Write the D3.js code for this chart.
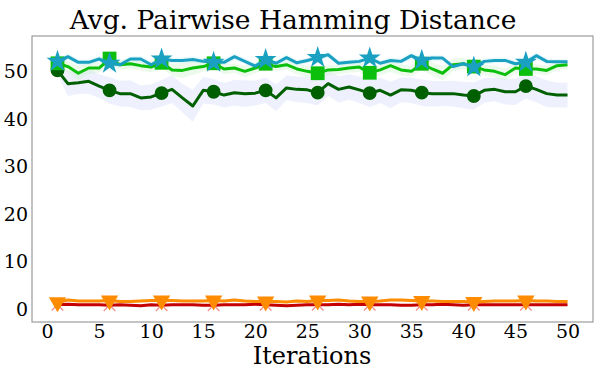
<!DOCTYPE html>
<html>
<head>
<meta charset="utf-8">
<script src="https://cdn.jsdelivr.net/npm/d3@7"></script>
<style>
  body { margin: 0; background: #fff; }
  text { font-family: "DejaVu Serif", serif; fill: #000; }
</style>
</head>
<body>
<svg id="chart" width="598" height="369"></svg>
<script>
// data
const iterations = d3.range(1, 51);
const markerIters = [1, 6, 11, 16, 21, 26, 31, 36, 41, 46];
const xTicks = [0, 5, 10, 15, 20, 25, 30, 35, 40, 45, 50];
const yTicks = [0, 10, 20, 30, 40, 50];

const cyanVals = [52.2, 53.2, 52.0, 52.0, 52.7, 51.8, 51.5, 52.7, 52.7, 51.5, 52.7, 52.4, 52.4, 52.6, 52.2, 52.0, 52.0, 53.2, 52.2, 51.2, 52.6, 51.8, 53.0, 51.9, 52.4, 53.0, 53.6, 51.8, 52.0, 52.2, 52.9, 51.8, 52.4, 52.2, 53.4, 52.4, 52.9, 52.9, 51.1, 51.7, 51.0, 52.2, 52.4, 52.4, 51.7, 52.0, 53.4, 52.2, 52.1, 52.1];
const cyanStd = [0.6, 0.7, 0.6, 0.6, 0.7, 0.8, 0.6, 0.6, 0.7, 0.6, 0.7, 0.6, 0.6, 0.7, 0.6, 0.6, 0.6, 0.7, 0.6, 0.7, 0.6, 0.6, 0.7, 0.6, 0.6, 0.7, 0.7, 0.6, 0.6, 0.6, 0.7, 0.6, 0.6, 0.6, 0.8, 0.7, 0.7, 0.6, 0.6, 0.6, 0.6, 0.6, 0.6, 0.6, 0.6, 0.7, 0.7, 0.6, 0.6, 0.6];

const greenVals = [51.8, 51.1, 49.7, 50.8, 50.8, 52.8, 51.5, 51.7, 51.3, 51.0, 51.9, 50.4, 50.3, 50.8, 51.1, 51.8, 50.6, 50.8, 50.1, 50.8, 51.7, 51.1, 51.5, 50.6, 50.1, 49.7, 50.4, 50.5, 50.8, 51.0, 49.8, 50.4, 51.3, 50.4, 50.1, 51.7, 50.6, 49.7, 51.5, 51.7, 51.1, 50.4, 50.1, 49.4, 50.8, 50.6, 50.6, 50.3, 51.3, 51.5];
const greenStd = [1.0, 1.2, 1.5, 1.3, 1.0, 1.0, 1.0, 1.0, 1.0, 1.1, 1.0, 1.3, 1.6, 1.4, 1.1, 1.0, 1.1, 1.0, 1.2, 1.1, 1.0, 1.0, 1.0, 1.1, 1.2, 1.2, 1.1, 1.0, 1.0, 1.0, 1.2, 1.1, 1.3, 1.2, 1.1, 1.3, 1.4, 1.5, 1.3, 1.2, 1.1, 1.1, 1.2, 1.3, 1.1, 1.0, 1.0, 1.0, 0.9, 0.9];

const darkVals = [50.3, 47.5, 47.7, 48.0, 47.0, 46.1, 45.4, 45.4, 44.5, 44.7, 45.5, 46.3, 44.5, 42.8, 46.1, 45.8, 45.1, 45.6, 45.4, 45.5, 46.1, 44.5, 46.6, 46.3, 46.2, 45.6, 47.5, 46.3, 46.8, 46.2, 45.5, 46.1, 45.1, 46.2, 46.1, 45.6, 45.4, 45.4, 45.4, 45.1, 44.9, 46.1, 46.3, 45.8, 45.8, 47.0, 46.3, 45.4, 45.1, 45.1];
const darkStd = [0.8, 2.6, 2.4, 2.6, 2.5, 2.8, 2.7, 2.8, 2.6, 2.7, 2.8, 2.9, 3.0, 3.4, 2.8, 2.7, 2.6, 2.7, 2.8, 2.6, 2.7, 2.8, 2.6, 2.7, 2.8, 2.7, 2.6, 2.8, 2.7, 2.8, 2.9, 2.7, 2.8, 2.6, 2.7, 2.8, 2.7, 2.6, 2.7, 2.8, 2.9, 2.6, 2.5, 2.7, 2.8, 2.6, 2.7, 2.8, 2.6, 2.6];

const orangeVals = [1.4, 1.9, 1.7, 1.7, 1.7, 1.8, 1.6, 1.6, 1.7, 1.8, 1.8, 1.8, 1.7, 1.7, 1.7, 1.8, 1.7, 1.9, 1.7, 1.6, 1.6, 1.6, 1.5, 1.7, 1.6, 1.8, 1.8, 1.9, 1.7, 1.6, 1.6, 1.7, 1.9, 1.9, 1.8, 1.7, 1.7, 1.6, 1.6, 1.6, 1.5, 1.6, 1.7, 1.7, 1.7, 1.8, 1.7, 1.7, 1.6, 1.6];
const orangeStd = [0.3, 0.3, 0.3, 0.3, 0.3, 0.3, 0.3, 0.3, 0.3, 0.3, 0.3, 0.3, 0.3, 0.3, 0.3, 0.3, 0.3, 0.3, 0.3, 0.3, 0.3, 0.3, 0.3, 0.3, 0.3, 0.3, 0.3, 0.3, 0.3, 0.3, 0.3, 0.3, 0.3, 0.3, 0.3, 0.3, 0.3, 0.3, 0.3, 0.3, 0.3, 0.3, 0.3, 0.3, 0.3, 0.3, 0.3, 0.3, 0.3, 0.3];

const redVals = [0.9, 1.0, 0.9, 0.9, 0.9, 0.8, 0.9, 0.8, 0.7, 0.9, 0.8, 0.9, 0.9, 0.9, 0.8, 0.8, 0.9, 0.9, 0.9, 1.0, 0.9, 0.8, 0.7, 0.8, 0.9, 0.9, 0.9, 1.0, 0.9, 1.0, 0.9, 0.9, 0.9, 0.8, 0.8, 0.9, 0.9, 1.0, 0.9, 0.8, 0.9, 0.9, 0.9, 0.9, 0.9, 0.9, 0.9, 0.9, 0.9, 0.9];
const redStd = [0.2, 0.2, 0.2, 0.2, 0.2, 0.2, 0.2, 0.2, 0.2, 0.2, 0.2, 0.2, 0.2, 0.2, 0.2, 0.2, 0.2, 0.2, 0.2, 0.2, 0.2, 0.2, 0.2, 0.2, 0.2, 0.2, 0.2, 0.2, 0.2, 0.2, 0.2, 0.2, 0.2, 0.2, 0.2, 0.2, 0.2, 0.2, 0.2, 0.2, 0.2, 0.2, 0.2, 0.2, 0.2, 0.2, 0.2, 0.2, 0.2, 0.2];

// series, drawn bottom first
const series = [
  { vals: redVals, std: redStd, color: "#c40000", band: "#ff9999", marker: "cross", mcolor: "#f08a8a" },
  { vals: orangeVals, std: orangeStd, color: "#ff8c00", band: "#ffd9a0", marker: "triangle", mcolor: "#ff8c00" },
  { vals: darkVals, std: darkStd, color: "#005f00", band: "#c8cff8", marker: "circle", mcolor: "#005f00" },
  { vals: greenVals, std: greenStd, color: "#0cbf0c", band: "#bff0bf", marker: "square", mcolor: "#0cbf0c" },
  { vals: cyanVals, std: cyanStd, color: "#1aa0c0", band: "#b8ecf4", marker: "star", mcolor: "#1aa0c0" }
];

const svg = d3.select("#chart");
const plot = { left: 32, right: 593, top: 36, bottom: 322 };

const x = d3.scaleLinear().domain([-1.45, 52.45]).range([plot.left, plot.right]);
const y = d3.scaleLinear().domain([-2.74, 57.55]).range([plot.bottom, plot.top]);

const g = svg.append("g");

// bands
series.forEach(s => {
  const area = d3.area()
    .x((d, i) => x(iterations[i]))
    .y0((d, i) => y(d - s.std[i]))
    .y1((d, i) => y(d + s.std[i]));
  g.append("path")
    .attr("d", area(s.vals))
    .attr("fill", s.band)
    .attr("opacity", 0.3);
});

// lines + markers
const symbols = {
  circle: d3.symbol(d3.symbolCircle, 150),
  square: d3.symbol(d3.symbolSquare, 190),
  star: d3.symbol(d3.symbolStar, 150),
  triangle: d3.symbol(d3.symbolTriangle, 130),
  cross: d3.symbol(d3.symbolX, 90)
};

series.forEach(s => {
  const line = d3.line()
    .x((d, i) => x(iterations[i]))
    .y(d => y(d));
  g.append("path")
    .attr("d", line(s.vals))
    .attr("fill", "none")
    .attr("stroke", s.color)
    .attr("stroke-width", 3)
    .attr("stroke-linejoin", "round");

  const pts = markerIters.map(it => [it, s.vals[iterations.indexOf(it)]]);
  const m = g.selectAll(null).data(pts).enter().append("path")
    .attr("d", symbols[s.marker]())
    .attr("transform", d => `translate(${x(d[0])},${y(d[1])})` + (s.marker === "triangle" ? " rotate(180)" : ""));
  if (s.marker === "cross") {
    m.attr("fill", "none").attr("stroke", s.mcolor).attr("stroke-width", 1.2);
  } else {
    m.attr("fill", s.mcolor);
  }
});

// frame
svg.append("rect")
  .attr("x", plot.left).attr("y", plot.top)
  .attr("width", plot.right - plot.left).attr("height", plot.bottom - plot.top)
  .attr("fill", "none").attr("stroke", "#888").attr("stroke-width", 1);

// axes without tick marks
const xAxis = svg.append("g")
  .attr("transform", `translate(0,${plot.bottom})`)
  .call(d3.axisBottom(x).tickValues(xTicks).tickSize(0).tickPadding(2));
xAxis.select(".domain").remove();
xAxis.selectAll("text").attr("font-size", 19).style("font-family", "DejaVu Serif");

const yAxis = svg.append("g")
  .attr("transform", `translate(${plot.left},0)`)
  .call(d3.axisLeft(y).tickValues(yTicks).tickSize(0).tickPadding(4));
yAxis.select(".domain").remove();
yAxis.selectAll("text").attr("font-size", 19).style("font-family", "DejaVu Serif");

svg.append("text")
  .attr("x", 293).attr("y", 29)
  .attr("text-anchor", "middle")
  .attr("font-size", 26.5)
  .text("Avg. Pairwise Hamming Distance");

svg.append("text")
  .attr("x", 312).attr("y", 364)
  .attr("text-anchor", "middle")
  .attr("font-size", 24)
  .text("Iterations");
</script>
</body>
</html>
